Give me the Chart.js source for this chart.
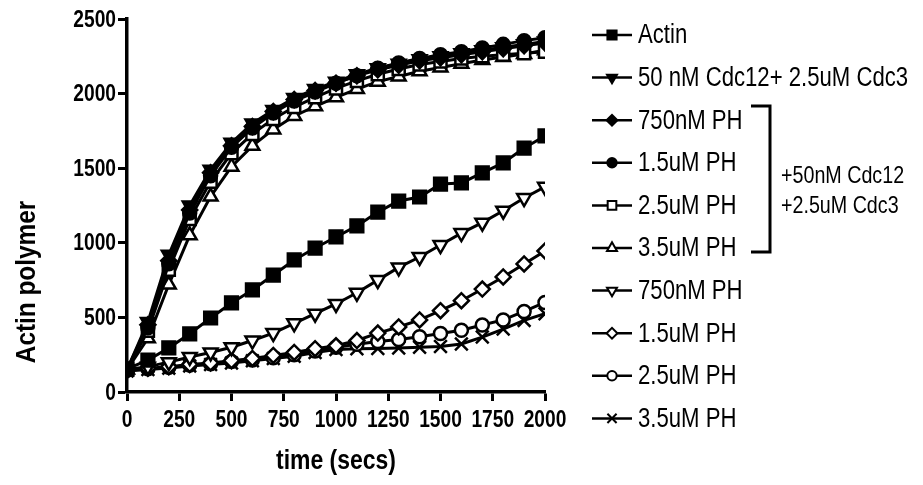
<!DOCTYPE html>
<html>
<head>
<meta charset="utf-8">
<script src="https://cdn.jsdelivr.net/npm/chart.js@4/dist/chart.umd.min.js"></script>
<style>
    html, body { margin: 0; padding: 0; background: #fff; }
    #wrap { width: 923px; height: 485px; position: relative; }
</style>
</head>
<body>
<div id="wrap"><canvas id="polymer-chart"></canvas></div>
<script>
// time points (secs)
const times = [0, 100, 200, 300, 400, 500, 600, 700, 800, 900, 1000,
               1100, 1200, 1300, 1400, 1500, 1600, 1700, 1800, 1900, 2000];

const actin       = [155, 214, 295, 390, 496, 597, 684, 784, 885, 965, 1039, 1113, 1206, 1280, 1307, 1394, 1401, 1468, 1535, 1635, 1716];
const cdc12Cdc3   = [150, 470, 920, 1250, 1490, 1670, 1800, 1890, 1970, 2030, 2080, 2130, 2170, 2200, 2230, 2250, 2270, 2290, 2310, 2330, 2350];
const septin750   = [150, 450, 880, 1220, 1470, 1650, 1780, 1880, 1960, 2020, 2070, 2120, 2160, 2190, 2220, 2240, 2260, 2280, 2300, 2320, 2340];
const septin1500  = [150, 430, 860, 1200, 1450, 1640, 1770, 1870, 1950, 2010, 2070, 2120, 2170, 2205, 2235, 2260, 2280, 2305, 2330, 2355, 2375];
const septin2500  = [150, 410, 820, 1160, 1410, 1600, 1730, 1830, 1910, 1975, 2035, 2085, 2130, 2165, 2195, 2215, 2235, 2250, 2260, 2270, 2280];
const septin3500  = [150, 360, 720, 1050, 1310, 1510, 1650, 1760, 1850, 1915, 1975, 2030, 2080, 2115, 2150, 2175, 2200, 2225, 2245, 2265, 2290];
const ph750       = [150, 170, 200, 235, 265, 300, 345, 395, 460, 525, 590, 665, 750, 835, 905, 985, 1065, 1135, 1215, 1300, 1375];
const ph1500      = [145, 160, 170, 185, 195, 210, 225, 245, 265, 290, 310, 345, 395, 436, 483, 545, 612, 690, 771, 858, 945];
const ph2500      = [145, 155, 165, 180, 190, 205, 215, 230, 250, 275, 300, 320, 338, 352, 370, 392, 414, 449, 483, 540, 600];
const ph3500      = [140, 150, 160, 175, 185, 195, 210, 225, 240, 265, 285, 290, 292, 295, 300, 305, 322, 368, 422, 480, 525];

const seriesLabels = ['Actin', '50 nM Cdc12+ 2.5uM Cdc3', '750nM PH', '1.5uM PH', '2.5uM PH',
                      '3.5uM PH', '750nM PH', '1.5uM PH', '2.5uM PH', '3.5uM PH'];
const bracketText = ['+50nM Cdc12', '+2.5uM Cdc3'];
const xTicks = [0, 250, 500, 750, 1000, 1250, 1500, 1750, 2000];
const yTicks = [0, 500, 1000, 1500, 2000, 2500];

const FONT = '"Liberation Sans", Arial, sans-serif';

// marker look for each series
const markers = [
    { style: 'rect', radius: 9, rotation: 0, filled: true },
    { style: 'triangle', radius: 8, rotation: 180, filled: true },
    { style: 'rectRot', radius: 7.5, rotation: 0, filled: true },
    { style: 'circle', radius: 6.5, rotation: 0, filled: true },
    { style: 'rect', radius: 8.5, rotation: 0, filled: false },
    { style: 'triangle', radius: 8, rotation: 0, filled: false },
    { style: 'triangle', radius: 8, rotation: 180, filled: false },
    { style: 'rectRot', radius: 7.5, rotation: 0, filled: false },
    { style: 'circle', radius: 6.5, rotation: 0, filled: false },
    { style: 'crossRot', radius: 9, rotation: 0, filled: false }
];

const seriesValues = [actin, cdc12Cdc3, septin750, septin1500, septin2500, septin3500,
                      ph750, ph1500, ph2500, ph3500];

const datasets = seriesValues.map((vals, i) => ({
    label: seriesLabels[i],
    data: vals.map((v, j) => ({ x: times[j], y: v })),
    borderColor: '#000',
    borderWidth: 3,
    tension: 0,
    pointStyle: markers[i].style,
    pointRadius: markers[i].radius,
    pointRotation: markers[i].rotation,
    pointBackgroundColor: markers[i].filled ? '#000' : '#fff',
    pointBorderColor: '#000',
    pointBorderWidth: 2.5
}));

// the original uses a narrow typeface, so squeeze text horizontally
function narrowText(ctx, text, x, y, sx, align, angle) {
    ctx.save();
    ctx.translate(x, y);
    if (angle) ctx.rotate(angle);
    ctx.scale(sx, 1);
    ctx.textAlign = align;
    ctx.fillText(text, 0, 0);
    ctx.restore();
}

// tick labels and axis titles
const axisText = {
    id: 'axisText',
    afterDraw(chart) {
        const ctx = chart.ctx;
        const xs = chart.scales.x, ys = chart.scales.y;
        ctx.save();
        ctx.fillStyle = '#000';
        ctx.textBaseline = 'middle';
        ctx.font = 'bold 24px ' + FONT;
        xTicks.forEach(v => narrowText(ctx, String(v), xs.getPixelForValue(v), 420, 0.8, 'center'));
        yTicks.forEach(v => narrowText(ctx, String(v), 116, ys.getPixelForValue(v) + 1, 0.8, 'right'));
        ctx.font = 'bold 27px ' + FONT;
        narrowText(ctx, 'time (secs)', 336, 462, 0.85, 'center');
        ctx.font = 'bold 28px ' + FONT;
        narrowText(ctx, 'Actin polymer', 27, 282, 0.87, 'center', -Math.PI / 2);
        ctx.restore();
    }
};

// legend on the right, drawn by hand so each entry shows line + marker
const sideLegend = {
    id: 'sideLegend',
    afterDraw(chart) {
        const ctx = chart.ctx;
        const x0 = 592, x1 = 632, top = 35, step = 42.6;
        ctx.save();
        ctx.font = '27px ' + FONT;
        ctx.textBaseline = 'middle';
        seriesLabels.forEach((label, i) => {
            const y = top + i * step;
            ctx.strokeStyle = '#000';
            ctx.lineWidth = 2.5;
            ctx.beginPath();
            ctx.moveTo(x0, y);
            ctx.lineTo(x1, y);
            ctx.stroke();
            const m = markers[i];
            ctx.fillStyle = m.filled ? '#000' : '#fff';
            ctx.lineWidth = 2;
            Chart.helpers.drawPoint(ctx, {
                pointStyle: m.style,
                radius: m.radius * 0.72,
                rotation: m.rotation,
                borderWidth: 2
            }, (x0 + x1) / 2, y);
            ctx.fillStyle = '#000';
            narrowText(ctx, label, 638, y + 1, 0.82, 'left');
        });

        // bracket around the PH + septin group
        ctx.lineWidth = 3;
        ctx.beginPath();
        ctx.moveTo(751, 106);
        ctx.lineTo(770, 106);
        ctx.lineTo(770, 252);
        ctx.lineTo(751, 252);
        ctx.stroke();
        ctx.font = '24px ' + FONT;
        ctx.textBaseline = 'alphabetic';
        narrowText(ctx, bracketText[0], 781, 183, 0.82, 'left');
        narrowText(ctx, bracketText[1], 781, 213, 0.82, 'left');
        ctx.restore();
    }
};

new Chart(document.getElementById('polymer-chart'), {
    type: 'line',
    data: { datasets: datasets },
    options: {
        responsive: true,
        maintainAspectRatio: false,
        animation: false,
        layout: { padding: { top: 19, right: 378, left: 0, bottom: 0 } },
        plugins: {
            legend: { display: false },
            tooltip: { enabled: false }
        },
        scales: {
            x: {
                type: 'linear',
                min: 0,
                max: 2000,
                afterBuildTicks: (scale) => { scale.ticks = xTicks.map(v => ({ value: v })); },
                afterFit: (scale) => { scale.height = 93; },
                ticks: { display: false },
                grid: { drawOnChartArea: false, color: '#000', tickLength: 9, tickWidth: 3 },
                border: { color: '#000', width: 3.5 }
            },
            y: {
                min: 0,
                max: 2500,
                afterBuildTicks: (scale) => { scale.ticks = yTicks.map(v => ({ value: v })); },
                afterFit: (scale) => { scale.width = 127; },
                ticks: { display: false },
                grid: { drawOnChartArea: false, color: '#000', tickLength: 9, tickWidth: 3 },
                border: { color: '#000', width: 3.5 }
            }
        }
    },
    plugins: [axisText, sideLegend]
});
</script>
</body>
</html>
